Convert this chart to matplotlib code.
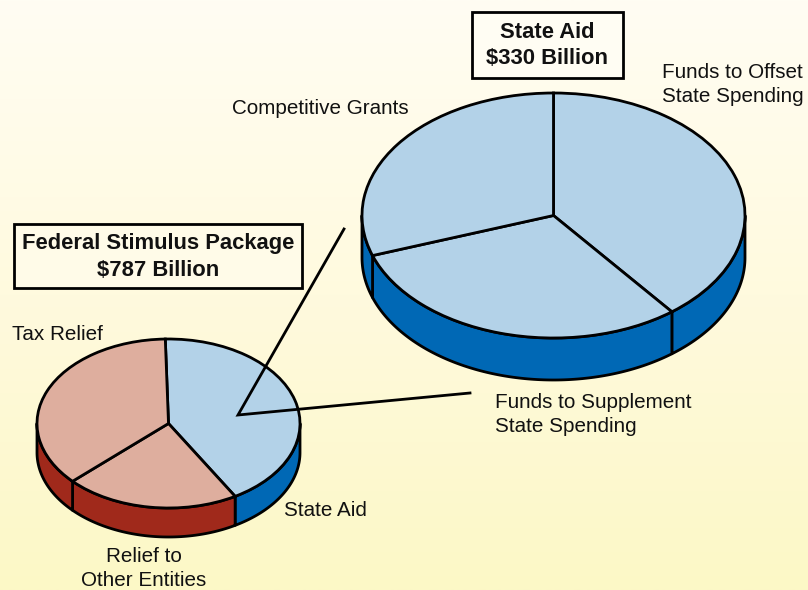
import numpy as np
import matplotlib
matplotlib.use("Agg")
import matplotlib.pyplot as plt
from matplotlib.colors import LinearSegmentedColormap
from matplotlib.patches import Polygon, Rectangle

plt.rcParams["font.family"] = ["Liberation Sans", "DejaVu Sans"]

W, H = 808, 590

# billions of dollars
package_labels = ["State Aid", "Relief to Other Entities", "Tax Relief"]
package_values = [330, 169, 288]
state_labels = ["Funds to Offset State Spending", "Funds to Supplement State Spending", "Competitive Grants"]
state_values = [130, 100, 100]

LIGHT_BLUE = "#b3d2e8"
DARK_BLUE = "#0068b5"
LIGHT_RED = "#deae9e"
DARK_RED = "#a0291b"
package_top = [LIGHT_BLUE, LIGHT_RED, LIGHT_RED]
package_side = [DARK_BLUE, DARK_RED, DARK_RED]
state_top = [LIGHT_BLUE] * 3
state_side = [DARK_BLUE] * 3
LW = 2.0


def draw_disc(fig, cx, cy, rx, ry, depth, values, tops, sides, start):
    """Squashed pie with a side wall, centre and radii given in pixels."""
    ax = fig.add_axes([(cx - rx) / W, 1 - (cy + ry) / H, 2 * rx / W, 2 * ry / H])
    ax.patch.set_alpha(0)
    d = depth / ry
    fracs = np.asarray(values) / sum(values)
    edges = start - 360 * np.concatenate([[0], np.cumsum(fracs)])
    for a0, a1, col in zip(edges[:-1], edges[1:], sides):
        # only the front half of the rim shows
        lo, hi = max(a1, -180), min(a0, 0)
        if hi <= lo:
            continue
        t = np.radians(np.linspace(lo, hi, 120))
        x, y = np.cos(t), np.sin(t)
        pts = np.r_[np.c_[x, y], np.c_[x[::-1], y[::-1] - d]]
        ax.add_patch(Polygon(pts, closed=True, fc=col, ec="black", lw=LW, clip_on=False, joinstyle="round"))
    ax.pie(values, colors=tops, startangle=start, counterclock=False, radius=1,
           wedgeprops={"edgecolor": "black", "linewidth": LW, "clip_on": False})
    ax.set_aspect("auto")
    ax.set_xlim(-1, 1)
    ax.set_ylim(-1, 1)
    ax.axis("off")
    return ax


fig = plt.figure(figsize=(W / 100, H / 100), dpi=100)

bg = fig.add_axes([0, 0, 1, 1])
cmap = LinearSegmentedColormap.from_list("paper", ["#fffdf3", "#fffade", "#fcf8c6"])
bg.imshow(np.linspace(0, 1, 256)[:, None], cmap=cmap, aspect="auto", extent=[0, W, H, 0])
bg.set_xlim(0, W)
bg.set_ylim(H, 0)
bg.axis("off")

draw_disc(fig, 553.5, 215.5, 191.5, 122.5, 42, state_values, state_top, state_side, 90)
draw_disc(fig, 168.5, 423.5, 131.5, 84.5, 29, package_values, package_top, package_side, 91.4)

over = fig.add_axes([0, 0, 1, 1])
over.patch.set_alpha(0)
over.set_xlim(0, W)
over.set_ylim(H, 0)
over.axis("off")

# callout lines joining the state aid slice to the big pie
over.plot([344, 238, 470], [229, 415, 393], color="black", lw=LW, solid_joinstyle="miter")

over.add_patch(Rectangle((472, 12), 151, 66, fc="#fffdf3", ec="black", lw=LW))
over.add_patch(Rectangle((14, 224), 288, 64, fc="#fffbe8", ec="black", lw=LW))

bold = dict(fontsize=15.8, fontweight="bold", ha="center", va="center", color="#111111")
over.text(547, 32, "State Aid", **bold)
over.text(547, 59, "$330 Billion", **bold)
over.text(158, 243, "Federal Stimulus Package", **bold)
over.text(158, 270, "$787 Billion", **bold)

plain = dict(fontsize=14.9, va="center", color="#111111")
over.text(232, 108, "Competitive Grants", **plain)
over.text(662, 72, "Funds to Offset", **plain)
over.text(662, 96, "State Spending", **plain)
over.text(495, 402, "Funds to Supplement", **plain)
over.text(495, 427, "State Spending", **plain)
over.text(12, 335, "Tax Relief", **plain)
over.text(284, 510, "State Aid", **plain)
over.text(144, 556, "Relief to", ha="center", **plain)
over.text(144, 581, "Other Entities", ha="center", **plain)

fig.savefig("out.png", dpi=100)
